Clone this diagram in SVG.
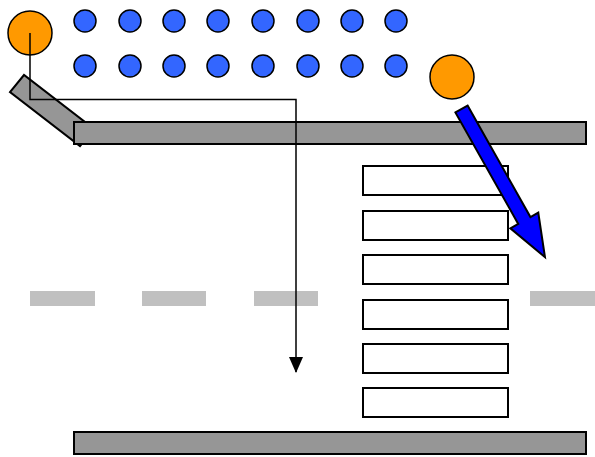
<svg xmlns="http://www.w3.org/2000/svg" width="595" height="457" viewBox="0 0 595 457">
<defs>
<style>
.bar{fill:#969696;stroke:#000;stroke-width:2}
.dash{fill:#c0c0c0}
.dot{fill:#3366ff;stroke:#000;stroke-width:1.5}
.ball{fill:#ff9900;stroke:#000;stroke-width:1.5}
.box{fill:#fff;stroke:#000;stroke-width:2}
.conn{fill:none;stroke:#000;stroke-width:1.5}
</style>
<marker id="ah" markerWidth="10" markerHeight="10" refX="9" refY="5" orient="auto" markerUnits="userSpaceOnUse" viewBox="0 0 10 10">
<path d="M0,0 L10,5 L0,10 z" fill="#000"/>
</marker>
<marker id="ahb" viewBox="0 0 16 14" refX="15" refY="7" markerWidth="16" markerHeight="14" orient="auto" markerUnits="userSpaceOnUse">
<path d="M0,0 L16,7 L0,14 z" fill="#000"/>
</marker>
</defs>
<g id="dashes">
<rect class="dash" x="30" y="291" width="65" height="15"/>
<rect class="dash" x="142" y="291" width="64" height="15"/>
<rect class="dash" x="254" y="291" width="64" height="15"/>
<rect class="dash" x="530" y="291" width="65" height="15"/>
</g>
<g id="ramp"><polygon class="bar" points="24,75 10,92 80,146 94,129"/></g>
<g id="topbar"><rect class="bar" x="74" y="122" width="512" height="22"/></g>
<g id="bottombar"><rect class="bar" x="74" y="432" width="512" height="22"/></g>
<g id="dots">
<circle class="dot" cx="85" cy="21" r="11"/><circle class="dot" cx="130" cy="21" r="11"/><circle class="dot" cx="174" cy="21" r="11"/><circle class="dot" cx="218" cy="21" r="11"/><circle class="dot" cx="263" cy="21" r="11"/><circle class="dot" cx="308" cy="21" r="11"/><circle class="dot" cx="352" cy="21" r="11"/><circle class="dot" cx="396" cy="21" r="11"/>
<circle class="dot" cx="85" cy="66" r="11"/><circle class="dot" cx="130" cy="66" r="11"/><circle class="dot" cx="174" cy="66" r="11"/><circle class="dot" cx="218" cy="66" r="11"/><circle class="dot" cx="263" cy="66" r="11"/><circle class="dot" cx="308" cy="66" r="11"/><circle class="dot" cx="352" cy="66" r="11"/><circle class="dot" cx="396" cy="66" r="11"/>
</g>
<g id="boxes">
<rect class="box" x="363" y="166" width="145" height="29"/>
<rect class="box" x="363" y="211" width="145" height="29"/>
<rect class="box" x="363" y="255" width="145" height="29"/>
<rect class="box" x="363" y="300" width="145" height="29"/>
<rect class="box" x="363" y="344" width="145" height="29"/>
<rect class="box" x="363" y="388" width="145" height="29"/>
</g>
<g id="ball1"><circle class="ball" cx="30" cy="33" r="22"/></g>
<g id="ball2"><circle class="ball" cx="452" cy="77" r="22"/></g>
<g id="connectors">
<path class="conn" d="M30,33 V99.5 H296 V372" marker-end="url(#ahb)"/>
<polygon transform="translate(461.5,109) rotate(60.6)" points="0,-7 128,-7 128,-16 170,0 128,16 128,7 0,7" fill="#0000ff" stroke="#000" stroke-width="2" stroke-linejoin="miter"/>
</g>
</svg>
